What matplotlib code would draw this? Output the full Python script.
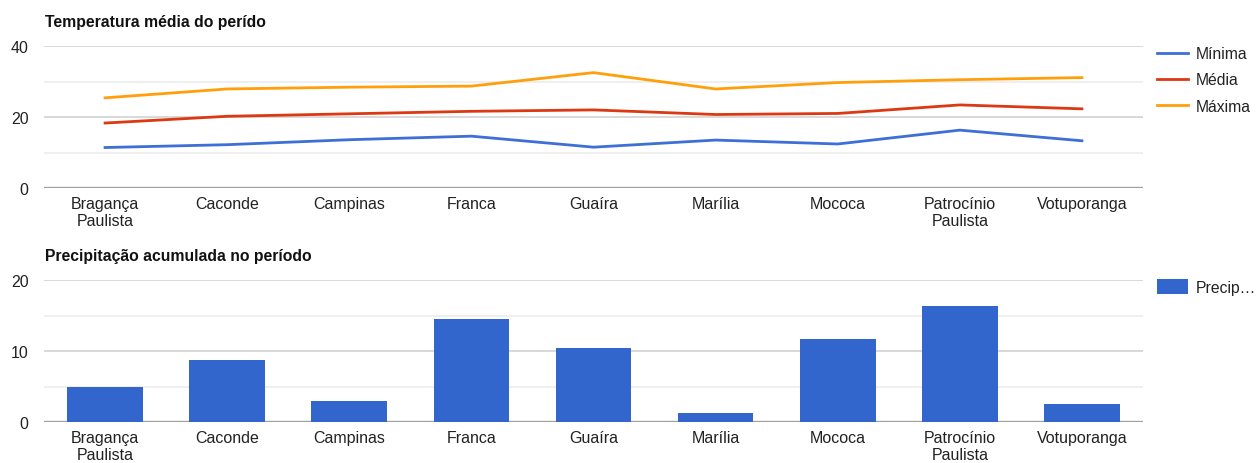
import numpy as np
import matplotlib
matplotlib.use('Agg')
import matplotlib.pyplot as plt

plt.rcParams['font.family'] = ['Liberation Sans', 'DejaVu Sans']

# dados
cidades = ['Bragança\nPaulista', 'Caconde', 'Campinas', 'Franca', 'Guaíra',
           'Marília', 'Mococa', 'Patrocínio\nPaulista', 'Votuporanga']
minima = [11.4, 12.2, 13.6, 14.6, 11.5, 13.5, 12.4, 16.3, 13.3]
media = [18.3, 20.2, 20.9, 21.6, 22.0, 20.7, 21.0, 23.4, 22.3]
maxima = [25.4, 27.9, 28.4, 28.7, 32.5, 27.9, 29.7, 30.5, 31.1]
precip = [5.0, 8.7, 3.0, 14.5, 10.4, 1.2, 11.7, 16.3, 2.5]

W, H = 1256, 464
fig = plt.figure(figsize=(W / 100, H / 100), dpi=100)

def px_axes(x0, y0, x1, y1):
    return fig.add_axes([x0 / W, 1 - y1 / H, (x1 - x0) / W, (y1 - y0) / H])

def style(ax, ymax, step):
    x = np.arange(len(cidades))
    ax.set_xlim(-0.5, len(cidades) - 0.5)
    ax.set_ylim(0, ymax)
    ax.set_yticks([0, ymax / 2, ymax])
    ax.set_yticklabels([str(int(v)) for v in [0, ymax / 2, ymax]])
    ax.set_yticks([step, ymax - step], minor=True)
    ax.grid(axis='y', which='major', color='#d6d6d6', lw=1.3)
    ax.grid(axis='y', which='minor', color='#eeeeee', lw=1.3)
    ax.set_axisbelow(True)
    ax.axhline(0, color='#a0a0a0', lw=2.4, zorder=1)
    ax.set_xticks(x)
    ax.set_xticklabels(cidades, linespacing=1.1)
    for s in ax.spines.values():
        s.set_visible(False)
    ax.tick_params(axis='both', which='both', length=0, labelsize=11.5,
                   labelcolor='#222222')
    ax.tick_params(axis='y', pad=11)
    ax.tick_params(axis='x', pad=6)

# temperatura
ax1 = px_axes(44, 47, 1143, 189)
x = np.arange(len(cidades))
ax1.plot(x, minima, color='#3d6fd6', lw=2.0, label='Mínima')
ax1.plot(x, media, color='#dc3912', lw=2.0, label='Média')
ax1.plot(x, maxima, color='#ff9f0a', lw=2.0, label='Máxima')
style(ax1, 40, 10)
fig.text(45 / W, 1 - 22 / H, 'Temperatura média do perído', fontsize=11.3,
         fontweight='bold', va='center', color='#111111')
ax1.legend(loc='upper left', bbox_to_anchor=(1157 / W, 1 - 47 / H),
           bbox_transform=fig.transFigure, frameon=False, fontsize=11.3,
           handlelength=2.0, handletextpad=0.5, labelspacing=0.72,
           labelcolor='#222222', borderaxespad=0, borderpad=0)

# precipitação
ax2 = px_axes(44, 281, 1143, 423)
ax2.bar(x, precip, width=0.62, color='#3366cc', label='Precip…', zorder=2)
style(ax2, 20, 5)
fig.text(45 / W, 1 - 256 / H, 'Precipitação acumulada no período', fontsize=11.3,
         fontweight='bold', va='center', color='#111111')
ax2.legend(loc='upper left', bbox_to_anchor=(1157 / W, 1 - 280 / H),
           bbox_transform=fig.transFigure, frameon=False, fontsize=11.3,
           handlelength=2.0, handleheight=1.05, handletextpad=0.5,
           labelcolor='#222222', borderaxespad=0, borderpad=0)

fig.savefig('out.png', dpi=100, facecolor='white')
